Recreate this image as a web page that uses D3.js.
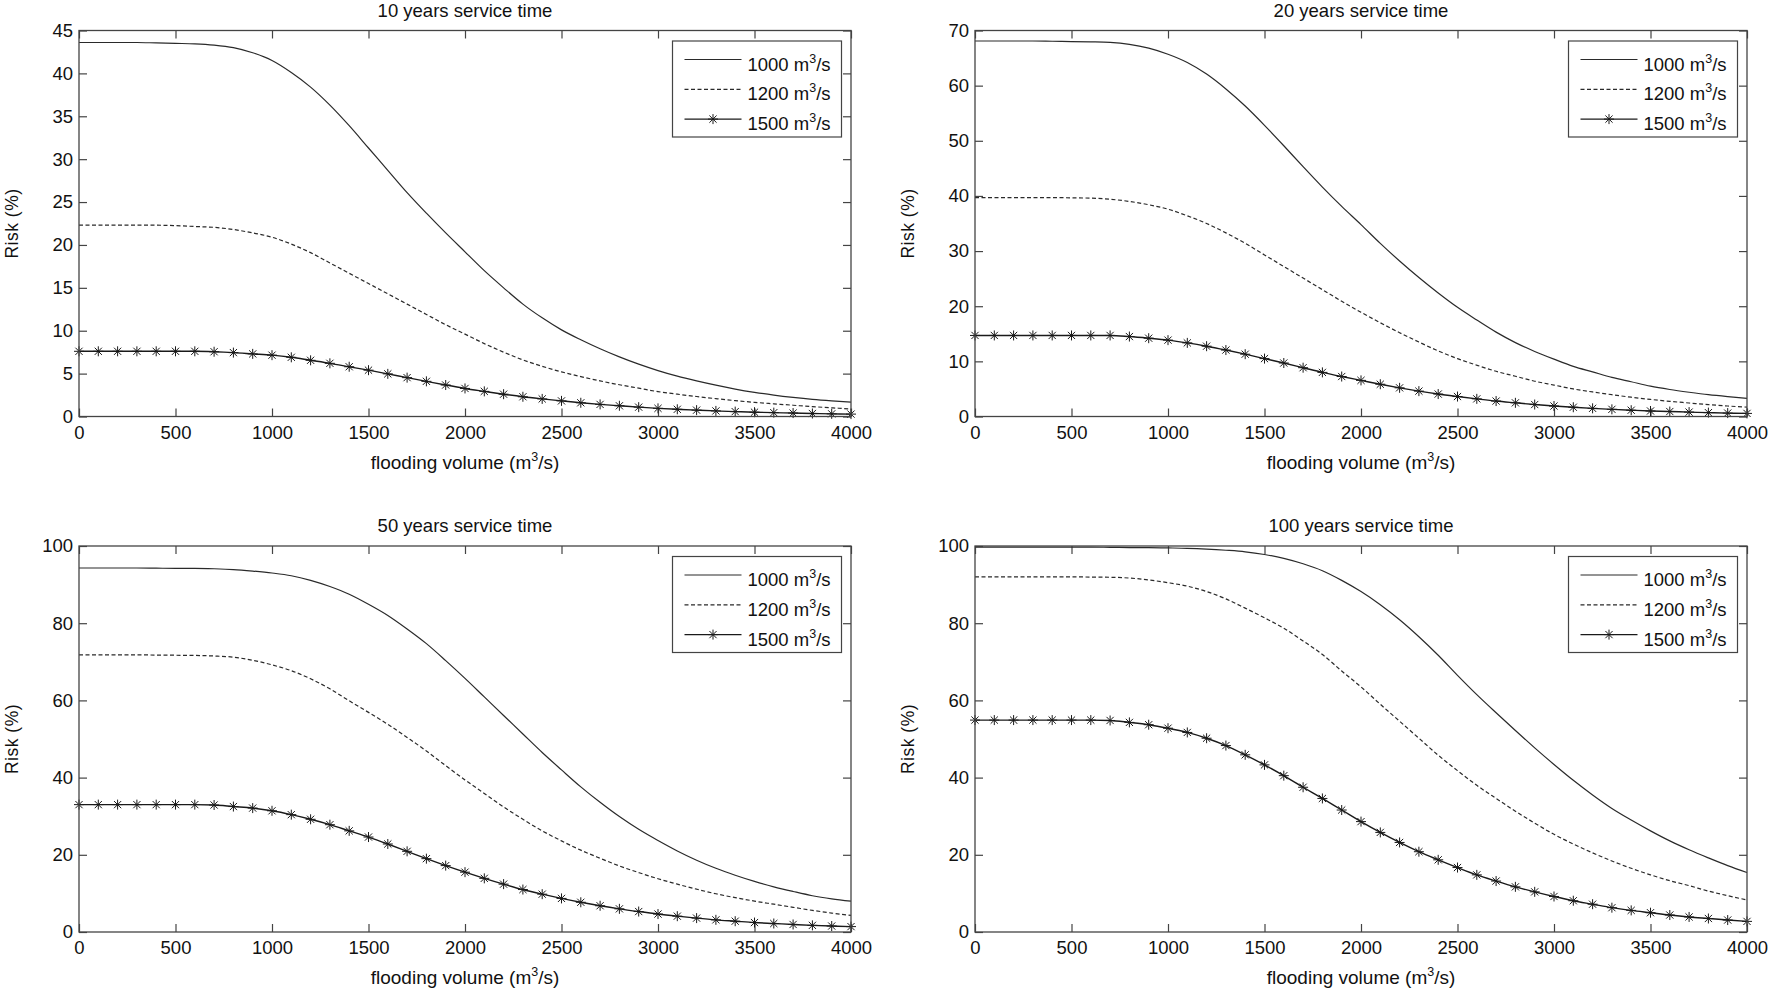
<!DOCTYPE html>
<html><head><meta charset="utf-8">
<script src="https://cdn.jsdelivr.net/npm/d3@7"></script>
<style>
body{margin:0;background:#fff}
svg{display:block}
text{font-family:"Liberation Sans",Arial,Helvetica,sans-serif;fill:#111}
</style>
</head><body>
<svg id="chart" width="1770" height="993"></svg>
<script>
// ---------- data ----------
const flowVolume = [0,100,200,300,400,500,600,700,800,900,1000,1100,1200,1300,1400,1500,1600,1700,1800,1900,2000,2100,2200,2300,2400,2500,2600,2700,2800,2900,3000,3100,3200,3300,3400,3500,3600,3700,3800,3900,4000];
const seriesLabels = ["1000","1200","1500"];
const panelTitles = ["10 years service time","20 years service time","50 years service time","100 years service time"];
const xTicks = [0,500,1000,1500,2000,2500,3000,3500,4000];
const yTicks10 = [0,5,10,15,20,25,30,35,40,45];
const yTicks20 = [0,10,20,30,40,50,60,70];
const yTicks50 = [0,20,40,60,80,100];
const yTicks100 = [0,20,40,60,80,100];

const risk10_1000 = [43.6,43.6,43.6,43.6,43.55,43.5,43.45,43.3,43.0,42.4,41.5,40.1,38.4,36.3,33.9,31.3,28.7,26.1,23.7,21.4,19.2,17.0,15.0,13.1,11.5,10.1,8.95,7.9,6.95,6.1,5.35,4.7,4.15,3.65,3.2,2.82,2.5,2.23,2.0,1.82,1.67];
const risk10_1200 = [22.3,22.3,22.3,22.3,22.3,22.25,22.15,22.05,21.8,21.4,20.9,20.1,19.1,17.9,16.7,15.5,14.3,13.1,11.9,10.7,9.6,8.5,7.5,6.6,5.85,5.2,4.65,4.15,3.7,3.3,2.9,2.6,2.33,2.08,1.85,1.65,1.48,1.31,1.15,1.01,0.88];
const risk10_1500 = [7.6,7.6,7.6,7.6,7.6,7.6,7.6,7.55,7.45,7.3,7.15,6.9,6.55,6.2,5.8,5.4,4.97,4.53,4.1,3.67,3.27,2.93,2.6,2.3,2.05,1.82,1.6,1.41,1.25,1.09,0.95,0.84,0.74,0.65,0.57,0.5,0.45,0.4,0.35,0.31,0.28];

const risk20_1000 = [68.1,68.1,68.1,68.1,68.05,68.0,67.95,67.85,67.5,66.8,65.7,64.2,62.1,59.4,56.3,52.8,49.1,45.3,41.6,38.1,34.8,31.4,28.2,25.2,22.4,19.8,17.5,15.3,13.4,11.8,10.4,9.1,8.1,7.1,6.3,5.5,4.9,4.4,3.95,3.6,3.3];
const risk20_1200 = [39.7,39.7,39.7,39.7,39.7,39.65,39.6,39.4,39.0,38.4,37.6,36.4,35.0,33.3,31.4,29.3,27.2,25.1,23.0,20.9,18.9,17.0,15.2,13.5,11.9,10.5,9.3,8.2,7.3,6.4,5.7,5.0,4.45,3.95,3.5,3.1,2.75,2.45,2.15,1.9,1.7];
const risk20_1500 = [14.7,14.7,14.7,14.7,14.7,14.7,14.7,14.7,14.5,14.2,13.85,13.35,12.75,12.05,11.3,10.5,9.7,8.85,8.0,7.25,6.55,5.85,5.2,4.6,4.07,3.62,3.2,2.8,2.48,2.17,1.9,1.68,1.48,1.3,1.14,1.0,0.9,0.8,0.7,0.62,0.56];

const risk50_1000 = [94.3,94.3,94.3,94.3,94.25,94.2,94.2,94.1,93.9,93.5,93.0,92.3,91.1,89.5,87.5,84.9,82.0,78.5,74.7,70.3,65.7,60.9,56.1,51.3,46.5,42.0,37.6,33.6,29.9,26.6,23.7,21.0,18.6,16.5,14.7,13.1,11.7,10.5,9.4,8.6,8.0];
const risk50_1200 = [71.8,71.8,71.8,71.8,71.75,71.7,71.65,71.5,71.2,70.4,69.2,67.7,65.6,63.0,59.9,56.9,53.8,50.4,46.9,43.1,39.4,35.9,32.4,29.2,26.2,23.6,21.2,19.1,17.1,15.4,13.8,12.4,11.1,9.9,8.9,8.0,7.2,6.4,5.6,4.9,4.3];
const risk50_1500 = [33.0,33.0,33.0,33.0,33.0,33.0,33.0,32.9,32.5,32.1,31.4,30.4,29.2,27.8,26.2,24.6,22.8,20.9,19.0,17.2,15.5,13.9,12.4,11.0,9.8,8.7,7.7,6.8,6.0,5.3,4.65,4.1,3.6,3.15,2.8,2.45,2.2,1.95,1.72,1.55,1.4];

const risk100_1000 = [99.7,99.7,99.7,99.7,99.7,99.7,99.7,99.65,99.6,99.58,99.5,99.4,99.2,98.9,98.5,97.8,96.8,95.4,93.6,91.1,88.2,84.8,80.9,76.5,71.7,66.5,61.5,56.8,52.2,47.7,43.4,39.3,35.5,32.0,29.0,26.2,23.6,21.3,19.2,17.2,15.4];
const risk100_1200 = [92.0,92.0,92.0,92.0,92.0,92.0,91.95,91.9,91.7,91.2,90.5,89.6,88.2,86.3,83.9,81.4,78.7,75.4,71.9,67.6,63.5,59.0,54.6,50.2,45.8,41.8,38.0,34.6,31.3,28.2,25.3,22.8,20.5,18.4,16.5,14.8,13.3,12.0,10.6,9.4,8.3];
const risk100_1500 = [54.9,54.9,54.9,54.9,54.9,54.9,54.9,54.8,54.3,53.7,52.8,51.7,50.2,48.3,45.9,43.3,40.5,37.5,34.6,31.6,28.6,25.8,23.2,20.8,18.7,16.7,14.8,13.2,11.7,10.4,9.2,8.1,7.2,6.3,5.6,5.0,4.4,3.9,3.5,3.1,2.75];

// ---------- panels built from the arrays ----------
const panels = [
  {title: panelTitles[0], yTicks: yTicks10, series: [risk10_1000, risk10_1200, risk10_1500]},
  {title: panelTitles[1], yTicks: yTicks20, series: [risk20_1000, risk20_1200, risk20_1500]},
  {title: panelTitles[2], yTicks: yTicks50, series: [risk50_1000, risk50_1200, risk50_1500]},
  {title: panelTitles[3], yTicks: yTicks100, series: [risk100_1000, risk100_1200, risk100_1500]}
];

// ---------- layout ----------
const svg = d3.select("#chart");
svg.append("rect").attr("width",1770).attr("height",993).attr("fill","#fff");
const colLeft = [79, 975];
const rowTop = [30.5, 546];
const W = 772, H = 386;
const axisColor = "#444";
const lineColor = "#2a2a2a";
const starPath = "M-5,0L5,0M0,-5L0,5M-3.6,-3.6L3.6,3.6M-3.6,3.6L3.6,-3.6";

panels.forEach((p, k) => {
  const left = colLeft[k % 2], top = rowTop[Math.floor(k / 2)];
  const g = svg.append("g").attr("transform", `translate(${left},${top})`);
  const yMax = p.yTicks[p.yTicks.length - 1];
  const x = d3.scaleLinear().domain([0, 4000]).range([0, W]);
  const y = d3.scaleLinear().domain([0, yMax]).range([H, 0]);

  const styleAxis = sel => {
    sel.select(".domain").remove();
    sel.selectAll(".tick line").attr("stroke", axisColor).attr("stroke-width", 1.2);
    sel.selectAll(".tick text").attr("font-size", 18.5).attr("fill", "#111")
      .attr("font-family", '"Liberation Sans",Arial,sans-serif');
  };
  g.append("g").attr("transform", `translate(0,${H})`)
    .call(d3.axisBottom(x).tickValues(xTicks).tickSize(-8).tickSizeOuter(0).tickPadding(9).tickFormat(d3.format("d")))
    .call(styleAxis);
  g.append("g")
    .call(d3.axisTop(x).tickValues(xTicks).tickSize(-8).tickSizeOuter(0).tickFormat(() => ""))
    .call(styleAxis);
  g.append("g")
    .call(d3.axisLeft(y).tickValues(p.yTicks).tickSize(-8).tickSizeOuter(0).tickPadding(6).tickFormat(d3.format("d")))
    .call(styleAxis);
  g.append("g").attr("transform", `translate(${W},0)`)
    .call(d3.axisRight(y).tickValues(p.yTicks).tickSize(-8).tickSizeOuter(0).tickFormat(() => ""))
    .call(styleAxis);

  // curves
  const line = d3.line().x((d, i) => x(flowVolume[i])).y(d => y(d)).curve(d3.curveMonotoneX);
  g.append("path").datum(p.series[0]).attr("d", line)
    .attr("fill", "none").attr("stroke", lineColor).attr("stroke-width", 1.2);
  g.append("path").datum(p.series[1]).attr("d", line)
    .attr("fill", "none").attr("stroke", lineColor).attr("stroke-width", 1.2).attr("stroke-dasharray", "4,2.5");
  g.append("path").datum(p.series[2]).attr("d", line)
    .attr("fill", "none").attr("stroke", "#1a1a1a").attr("stroke-width", 1.4);
  g.selectAll(".star").data(p.series[2]).join("path")
    .attr("class", "star")
    .attr("transform", (d, i) => `translate(${x(flowVolume[i])},${y(d)})`)
    .attr("d", starPath).attr("fill", "none").attr("stroke", "#1a1a1a").attr("stroke-width", 1);

  // box
  g.append("rect").attr("width", W).attr("height", H)
    .attr("fill", "none").attr("stroke", axisColor).attr("stroke-width", 1.3);

  // title
  g.append("text").attr("x", W / 2).attr("y", -14).attr("text-anchor", "middle")
    .attr("font-size", 18.5).text(p.title);

  // x label
  const xl = g.append("text").attr("x", W / 2).attr("y", H + 52).attr("text-anchor", "middle").attr("font-size", 19);
  xl.append("tspan").text("flooding volume (m");
  xl.append("tspan").attr("dy", -8).attr("font-size", 12.5).text("3");
  xl.append("tspan").attr("dy", 8).text("/s)");

  // y label
  g.append("text").attr("transform", `translate(-61,${H / 2}) rotate(-90)`)
    .attr("text-anchor", "middle").attr("font-size", 17.5).attr("letter-spacing", 0.5).text("Risk (%)");

  // legend
  const lw = 169, lh = 96;
  const lg = g.append("g").attr("transform", `translate(${W - 9.5 - lw},10.5)`);
  lg.append("rect").attr("width", lw).attr("height", lh).attr("fill", "#fff")
    .attr("stroke", axisColor).attr("stroke-width", 1.2);
  seriesLabels.forEach((lab, i) => {
    const ry = 18.5 + 29.8 * i;
    const ln = lg.append("line").attr("x1", 12).attr("x2", 69).attr("y1", ry).attr("y2", ry)
      .attr("stroke", i === 2 ? "#1a1a1a" : lineColor).attr("stroke-width", i === 2 ? 1.4 : 1.2);
    if (i === 1) ln.attr("stroke-dasharray", "4,2.5");
    if (i === 2) lg.append("path").attr("transform", `translate(40.5,${ry})`).attr("d", starPath)
      .attr("fill", "none").attr("stroke", "#1a1a1a").attr("stroke-width", 1);
    const t = lg.append("text").attr("x", 75).attr("y", ry + 11).attr("font-size", 18.5);
    t.append("tspan").text(lab + " m");
    t.append("tspan").attr("dy", -8).attr("font-size", 12.5).text("3");
    t.append("tspan").attr("dy", 8).text("/s");
  });
});
</script>
</body></html>
